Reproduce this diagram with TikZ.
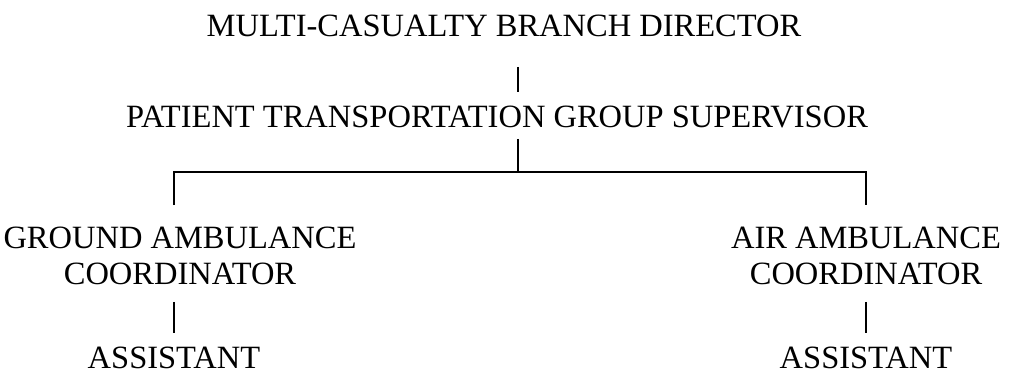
\documentclass[tikz,border=0pt]{standalone}
\usepackage{fontspec}
\setmainfont{Liberation Serif}
\newcommand{\picunit}{0.3pt}
\newcommand{\textsz}{\fontsize{9.75}{10.8}\selectfont}

\begin{document}
\begin{tikzpicture}[x=\picunit, y=-\picunit, line width=0.6pt,
    every node/.style={font=\textsz, inner sep=0pt, outer sep=0pt, align=center}]
    \useasboundingbox (0,0) rectangle (1009,373);

    % Upper levels.
    \node (director)   [anchor=base] at (504,37)  {MULTI-CASUALTY BRANCH DIRECTOR};
    \node (supervisor) [anchor=base] at (497,128) {PATIENT TRANSPORTATION GROUP SUPERVISOR};

    % Coordinators.
    \node (ground) [anchor=south] at (180,285) {GROUND AMBULANCE\\COORDINATOR};
    \node (air)    [anchor=south] at (866,285) {AIR AMBULANCE\\COORDINATOR};

    % Assistants.
    \node (groundasst) [anchor=base] at (174,369) {ASSISTANT};
    \node (airasst)    [anchor=base] at (866,369) {ASSISTANT};

    % Junction of the branches.
    \coordinate (bar) at (518,172);
    \coordinate (dirfoot) at (518,67);
    \coordinate (supfoot) at (518,139);

    % Lines between levels.
    \draw (dirfoot) -- ([yshift=4.2pt]supervisor.north -| dirfoot);
    \draw (supfoot) -- (bar);
    \draw ([yshift=6.6pt]ground.north -| groundasst) -- (groundasst |- bar) -- (airasst |- bar) -- ([yshift=6.6pt]air.north -| airasst);
    \draw ([yshift=-5.1pt]ground.south -| groundasst) -- ([yshift=4.2pt]groundasst.north);
    \draw ([yshift=-5.1pt]air.south) -- ([yshift=4.2pt]airasst.north);

\end{tikzpicture}
\end{document}
